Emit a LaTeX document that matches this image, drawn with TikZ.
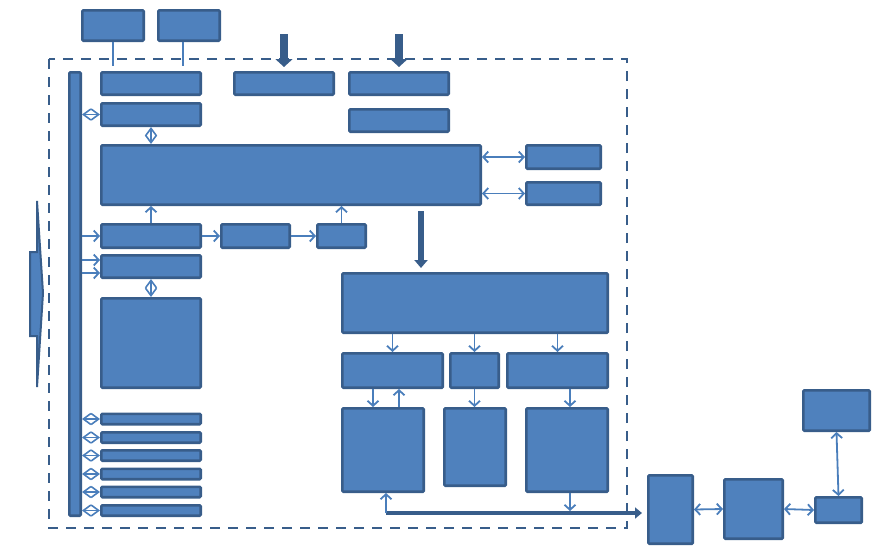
\documentclass[tikz,border=0pt]{standalone}
\usetikzlibrary{arrows.meta, calc}
\definecolor{boxfill}{RGB}{79,129,189}
\definecolor{boxline}{RGB}{56,93,138}
\definecolor{linkcol}{RGB}{74,126,187}
\tikzset{
  unit/.style 2 args={
    rectangle,
    draw=boxline,
    fill=boxfill,
    line width=2.6pt,
    rounded corners=1pt,
    inner sep=0pt,
    minimum width={#1*1pt-2.6pt},
    minimum height={#2*1pt-2.6pt}
  },
  arrow/.style={
    -{Straight Barb[length=5pt,width=11pt]},
    line width=1.8pt,
    color=linkcol
  },
  dblarrow/.style={
    {Straight Barb[length=5pt,width=11pt]}-{Straight Barb[length=5pt,width=11pt]},
    line width=1.8pt,
    color=linkcol
  },
  diamarrow/.style={
    {Straight Barb[length=7.5pt,width=11pt]}-{Straight Barb[length=7.5pt,width=11pt]},
    line width=1.6pt,
    color=linkcol
  },
  bigarrow/.style={
    -{Triangle[length=8pt,width=17pt]},
    line width=8pt,
    color=boxline
  },
  busline/.style={
    -{Triangle[length=7pt,width=11pt]},
    line width=4.5pt,
    color=boxline
  },
  frame/.style={
    draw=boxline,
    line width=2.8pt,
    dash pattern=on 10pt off 8pt
  }
}

\begin{document}
\begin{tikzpicture}[x=1pt, y=-1pt]
  \useasboundingbox (0,0) rectangle (879,550);

  % Frame
  \draw[frame] (49,59) rectangle (627,528);

  % External inputs
  \node[unit={64}{33}] (ext1) at (113,25.5) {};
  \node[unit={64}{33}] (ext2) at (189,25.5) {};
  \coordinate (in1) at (284,34);
  \coordinate (in2) at (399,34);

  % Bus bar and left input
  \node[unit={14}{446}] (busbar) at (75,294) {};
  \draw[line width=2pt, draw=boxline, fill=boxfill]
    (30,252) -- (37,252) -- (37,201) -- (43,293) -- (37,387) -- (37,336) -- (30,336) -- cycle;

  % Upper row
  \node[unit={102}{25}] (ctrl) at (151,83.5) {};
  \node[unit={102}{25}] (port) at (151,114.5) {};
  \node[unit={102}{25}] (clk1) at (284,83.5) {};
  \node[unit={102}{25}] (clk2) at (399,83.5) {};
  \node[unit={102}{25}] (clk3) at (399,120.5) {};

  % Core
  \node[unit={382}{62}] (core) at (291,175) {};
  \node[unit={77}{26}] (side1) at (563.5,157) {};
  \node[unit={77}{25}] (side2) at (563.5,193.5) {};

  % Middle row
  \node[unit={102}{26}] (tim1) at (151,236) {};
  \node[unit={71}{26}] (tim2) at (255.5,236) {};
  \node[unit={51}{26}] (tim3) at (341.5,236) {};
  \node[unit={102}{25}] (io) at (151,266.5) {};
  \node[unit={102}{92}] (ram) at (151,343) {};

  % Slave blocks on the bus
  \foreach \i/\yy in {1/419,2/437.5,3/455.5,4/474,5/492,6/510.5} {
    \node[unit={102}{13}] (gpio\i) at (151,\yy) {};
    \draw[diamarrow] (busbar.east |- gpio\i.west) -- (gpio\i.west);
  }

  % Processing chain
  \node[unit={268}{62}] (proc) at (475,303) {};
  \node[unit={103}{37}] (sub1) at (392.5,370.5) {};
  \node[unit={51}{37}] (sub2) at (474.5,370.5) {};
  \node[unit={103}{37}] (sub3) at (557.5,370.5) {};
  \node[unit={84}{86}] (dev1) at (383,450) {};
  \node[unit={64}{80}] (dev2) at (475,447) {};
  \node[unit={84}{86}] (dev3) at (567,450) {};
  \coordinate (busL) at (386,513);

  % Outside blocks
  \node[unit={47}{71}] (out1) at (670.5,509.5) {};
  \node[unit={61}{62}] (out2) at (753.5,509) {};
  \node[unit={49}{28}] (out3) at (838.5,510) {};
  \node[unit={69}{43}] (out4) at (836.5,410.5) {};

  % Input connections
  \draw[color=linkcol, line width=1.8pt, shorten >=5pt] (ext1.south) -- ([xshift=-38pt]ctrl.north);
  \draw[color=linkcol, line width=1.8pt, shorten >=5pt] ([xshift=-6pt]ext2.south) -- ([xshift=32pt]ctrl.north);
  \draw[bigarrow, shorten >=4pt] (in1) -- (clk1.north);
  \draw[bigarrow, shorten >=4pt] (in2) -- (clk2.north);

  % Bus links
  \draw[diamarrow] (busbar.east |- port.west) -- (port.west);
  \draw[diamarrow] (port.south) -- (port.south |- core.north);
  \draw[arrow] (busbar.east |- tim1.west) -- (tim1.west);
  \draw[arrow] (busbar.east |- io.north west) ++(0,6) -- ++(18,0);
  \draw[arrow] (busbar.east |- io.south west) ++(0,-6) -- ++(18,0);
  \draw[diamarrow] (io.south) -- (ram.north);

  % Core links
  \draw[dblarrow] (core.east |- side1.west) -- (side1.west);
  \draw[dblarrow] (core.east |- side2.west) -- (side2.west);
  \draw[arrow] (tim1.north) -- (tim1.north |- core.south);
  \draw[arrow] (tim1.east) -- (tim2.west);
  \draw[arrow] (tim2.east) -- (tim3.west);
  \draw[arrow] (tim3.north) -- (tim3.north |- core.south);
  \draw[bigarrow, line width=6pt, -{Triangle[length=8pt,width=13pt]}, shorten <=5pt, shorten >=4pt]
    ([xshift=130pt]core.south) -- ([xshift=-54pt]proc.north);

  % Processing links
  \draw[arrow] (proc.south -| sub1.north) -- (sub1.north);
  \draw[arrow] (proc.south -| sub2.north) -- (sub2.north);
  \draw[arrow] (proc.south -| sub3.north) -- (sub3.north);
  \draw[arrow] ([xshift=-19.5pt]sub1.south) -- ([xshift=-10pt]dev1.north);
  \draw[arrow] ([xshift=16pt]dev1.north) -- ([xshift=6.5pt]sub1.south);
  \draw[arrow] (sub2.south) -- (sub2.south |- dev2.north);
  \draw[arrow] ([xshift=12.5pt]sub3.south) -- ([xshift=3pt]dev3.north);

  % Output bus
  \draw[busline, shorten >=5pt] (busL) -- (busL -| out1.west);
  \draw[arrow] (busL) -- (busL |- dev1.south);
  \draw[arrow, shorten >=2pt] ([xshift=3pt]dev3.south) -- ([xshift=3pt]dev3.south |- busL);

  % Outside links
  \draw[dblarrow] (out1.east) -- (out2.west);
  \draw[dblarrow] (out2.east) -- (out3.west);
  \draw[dblarrow] (out4.south) -- (out3.north);

\end{tikzpicture}
\end{document}
